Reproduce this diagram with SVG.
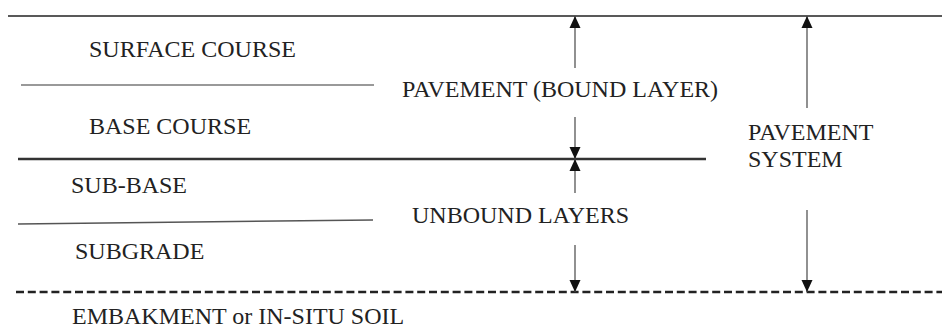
<svg xmlns="http://www.w3.org/2000/svg" width="942" height="329" viewBox="0 0 942 329">
  <style>
    text { font-family: "Liberation Serif", "Times New Roman", serif; font-size: 24px; fill: #222; }
    .layer { stroke: #444; fill: none; }
    .dim { stroke: #555; stroke-width: 1.3; fill: none; marker-end: url(#head); }
  </style>
  <defs>
    <marker id="head" markerUnits="userSpaceOnUse" markerWidth="13" markerHeight="13" viewBox="0 0 13 13" refX="12" refY="6.5" orient="auto">
      <path d="M0,1 L12,6.5 L0,12 Z" fill="#111"/>
    </marker>
  </defs>

  <!-- layer boundaries -->
  <g id="boundaries">
    <line class="layer" x1="8" y1="16" x2="942" y2="16" stroke-width="1.6" style="stroke:#222"/>
    <line class="layer" x1="21" y1="85" x2="374" y2="85" stroke-width="1.5" style="stroke:#777"/>
    <line class="layer" x1="18" y1="159" x2="706" y2="159" stroke-width="2.6" style="stroke:#333"/>
    <line class="layer" x1="18" y1="224" x2="373" y2="220" stroke-width="1.5" style="stroke:#555"/>
    <line class="layer" x1="16" y1="292" x2="942" y2="292" stroke-width="2.6" stroke-dasharray="8 3.8" style="stroke:#222"/>
  </g>

  <!-- layer names -->
  <g id="surface-course"><text x="89" y="57">SURFACE COURSE</text></g>
  <g id="base-course"><text x="89" y="134">BASE COURSE</text></g>
  <g id="sub-base"><text x="71" y="193">SUB-BASE</text></g>
  <g id="subgrade"><text x="75" y="259">SUBGRADE</text></g>
  <g id="embankment"><text x="72" y="324">EMBAKMENT or IN-SITU SOIL</text></g>

  <!-- group labels -->
  <g id="pavement-bound"><text x="402" y="97">PAVEMENT (BOUND LAYER)</text></g>
  <g id="unbound-layers"><text x="412" y="223">UNBOUND LAYERS</text></g>
  <g id="pavement-system">
    <text x="748" y="140">PAVEMENT</text>
    <text x="748" y="167">SYSTEM</text>
  </g>

  <!-- dimension arrows -->
  <g id="connectors">
    <line class="dim" x1="575" y1="68" x2="575" y2="16"/>
    <line class="dim" x1="575" y1="117" x2="575" y2="159"/>
    <line class="dim" x1="575" y1="193" x2="575" y2="159"/>
    <line class="dim" x1="575" y1="245" x2="575" y2="292"/>
    <line class="dim" x1="807" y1="108" x2="807" y2="16"/>
    <line class="dim" x1="807" y1="210" x2="807" y2="292"/>
  </g>
</svg>
